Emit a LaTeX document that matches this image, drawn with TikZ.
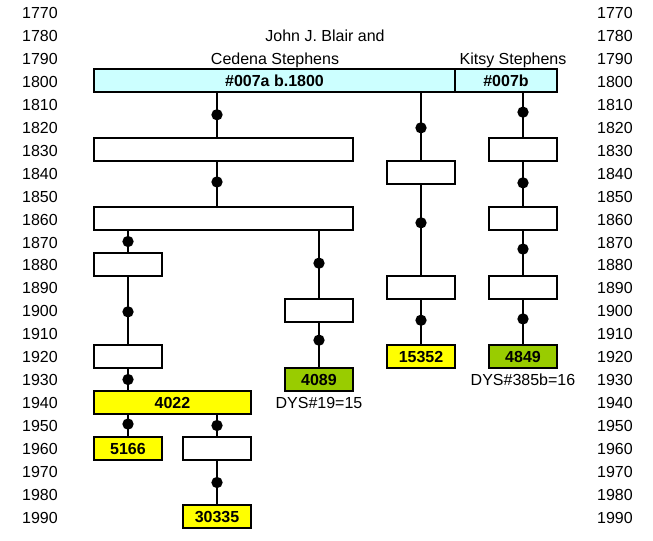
\documentclass[tikz,border=0pt]{standalone}
\usepackage{fontspec}
\setmainfont{Liberation Sans}
\definecolor{cyanbox}{HTML}{CCFFFF}
\definecolor{yellowbox}{HTML}{FFFF00}
\definecolor{greenbox}{HTML}{99CC00}
\tikzset{
  txt/.style={font=\fontsize{12}{14}\selectfont, inner sep=0pt},
  box/.style={draw, line width=1.5pt, inner sep=0pt, minimum height=17.25pt,
    minimum width=#1*0.75pt, font=\fontsize{12}{14}\selectfont\bfseries},
  box/.default=68,
  link/.style={line width=1.2pt},
  dot/.style={circle, fill, inner sep=0pt, minimum size=8.5pt},
}
\begin{document}
\begin{tikzpicture}[x=0.75pt, y=-0.75pt]
\useasboundingbox (0,0) rectangle (653,540);
\foreach \yr [count=\i from 0] in {1770,1780,...,1990}
{
\node[txt, anchor=east] at (58, 13+22.95*\i) {\yr};
\node[txt, anchor=east] at (633, 13+22.95*\i) {\yr};
}
\node[txt, anchor=base] (husb) at (325,41) {John J. Blair and};
\node[txt, anchor=base] (wife1) at (275,64) {Cedena Stephens};
\node[txt, anchor=base] (wife2) at (513,64) {Kitsy Stephens};

\node[box=361, fill=cyanbox] (p007a) at (274.5,80.5) {\#007a b.1800};
\node[box=102, fill=cyanbox] (p007b) at (506,80.5) {\#007b};
\node[box=259] (r1830) at (223.5,149) {};
\node[box=259] (r1860) at (223.5,218.5) {};
\node[box] (c1840) at (421,172.5) {};
\node[box] (c1890) at (421,287.5) {};
\node[box, fill=yellowbox] (k15352) at (421,356.5) {15352};
\node[box] (d1830) at (523,149) {};
\node[box] (d1860) at (523,218.5) {};
\node[box] (d1890) at (523,287.5) {};
\node[box, fill=greenbox] (k4849) at (523,356.5) {4849};
\node[box] (e1880) at (128,264.5) {};
\node[box] (e1920) at (128,356.5) {};
\node[box=157, fill=yellowbox] (k4022) at (172.5,402.5) {4022};
\node[box, fill=yellowbox] (k5166) at (128,448.5) {5166};
\node[box] (f1960) at (217,448.5) {};
\node[box, fill=yellowbox] (k30335) at (217,516.5) {30335};
\node[box] (g1900) at (319,310.5) {};
\node[box, fill=greenbox] (k4089) at (319,379.5) {4089};
\node[txt] (n4089) at (319,403) {DYS\#19=15};
\node[txt] (n4849) at (523,380) {DYS\#385b=16};

\draw[link] (p007a.south -| f1960) -- (r1830.north -| f1960) node[dot, pos=.5] {};
\draw[link] (r1830.south -| f1960) -- (r1860.north -| f1960) node[dot, pos=.46] {};
\draw[link] (p007a.south -| c1840) -- (c1840.north) node[dot, pos=.52] {};
\draw[link] (c1840.south) -- (c1890.north) node[dot, pos=.42] {};
\draw[link] (c1890.south) -- (k15352.north) node[dot, pos=.46] {};
\draw[link] (p007b.south -| d1830) -- (d1830.north) node[dot, pos=.44] {};
\draw[link] (d1830.south) -- (d1860.north) node[dot, pos=.48] {};
\draw[link] (d1860.south) -- (d1890.north) node[dot, pos=.41] {};
\draw[link] (d1890.south) -- (k4849.north) node[dot, pos=.43] {};
\draw[link] (r1860.south -| e1880) -- (e1880.north) node[dot, pos=.5] {};
\draw[link] (e1880.south) -- (e1920.north) node[dot, pos=.52] {};
\draw[link] (e1920.south) -- (k4022.north -| e1920) node[dot, pos=.5] {};
\draw[link] (k4022.south -| k5166) -- (k5166.north) node[dot, pos=.43] {};
\draw[link] (k4022.south -| f1960) -- (f1960.north) node[dot, pos=.5] {};
\draw[link] (f1960.south) -- (k30335.north) node[dot, pos=.5] {};
\draw[link] (r1860.south -| g1900) -- (g1900.north) node[dot, pos=.48] {};
\draw[link] (g1900.south) -- (k4089.north) node[dot, pos=.39] {};
\end{tikzpicture}
\end{document}
